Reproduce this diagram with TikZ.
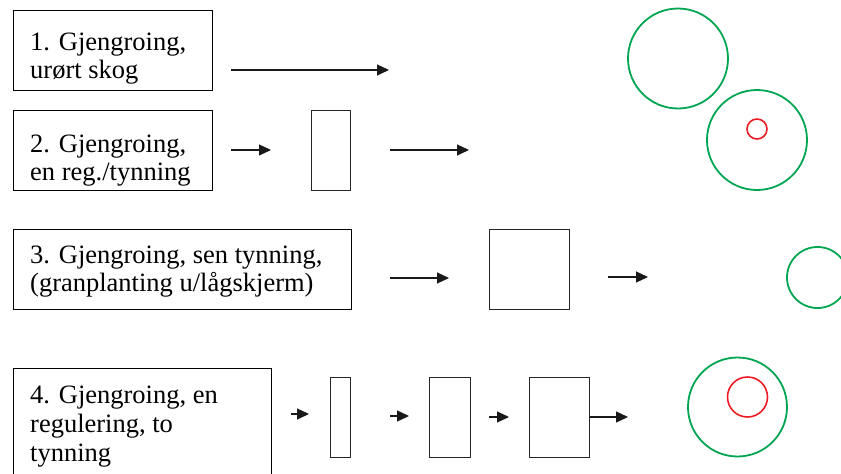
\documentclass[tikz,border=0pt]{standalone}
\usepackage{fontspec}
\setmainfont{Liberation Serif}
\usetikzlibrary{arrows.meta}
\definecolor{ggreen}{RGB}{0,166,81}
\definecolor{rred}{RGB}{237,28,36}
\begin{document}
\begin{tikzpicture}[x=1pt,y=-1pt,
  lbl/.style={draw=black,line width=1.3pt,inner sep=0pt,anchor=north west},
  txt/.style={anchor=base west,inner sep=0pt,font=\fontsize{26.5}{30}\selectfont},
  blk/.style={draw=black!85,line width=1.3pt,inner sep=0pt,anchor=north west},
  arr/.style={-{Triangle[length=12pt,width=11pt]},line width=1.2pt,black!90},
  gc/.style={draw=ggreen,line width=1.8pt,circle,inner sep=0pt},
  rc/.style={draw=rred,line width=1.6pt,circle,inner sep=0pt}]
\useasboundingbox (0,0) rectangle (841,474);
\clip (0,0) rectangle (841,474);
% label boxes
\node[lbl,minimum width=199pt,minimum height=80pt] (b1) at (13,10) {};
\node[lbl,minimum width=199pt,minimum height=80pt] (b2) at (13,109.5) {};
\node[lbl,minimum width=338pt,minimum height=80pt] (b3) at (13,228.5) {};
\node[lbl,minimum width=258pt,minimum height=130pt] (b4) at (13,368) {};
\node[txt] (t1a) at (30,50) {1. Gjengroing,};
\node[txt] (t1b) at (30,78) {urørt skog};
\node[txt] (t2a) at (30,152) {2. Gjengroing,};
\node[txt] (t2b) at (30,180) {en reg./tynning};
\node[txt] (t3a) at (30,263) {3. Gjengroing, sen tynning,};
\node[txt] (t3b) at (30,291) {(granplanting u/lågskjerm)};
\node[txt] (t4a) at (30,403) {4. Gjengroing, en};
\node[txt] (t4b) at (30,432) {regulering, to};
\node[txt] (t4c) at (30,461) {tynning};
% row 1
\coordinate (a1s) at (231,70); \coordinate (a1e) at (389,70);
\draw[arr] (a1s) -- (a1e);
\node[gc,minimum size=100pt] (c1) at (678,58.5) {};
% row 2
\coordinate (a2s) at (231,150); \coordinate (a2e) at (271,150);
\draw[arr] (a2s) -- (a2e);
\node[blk,minimum width=39pt,minimum height=80pt] (r2) at (311,109.5) {};
\coordinate (a3s) at (390,150); \coordinate (a3e) at (469,150);
\draw[arr] (a3s) -- (a3e);
\node[gc,minimum size=100pt] (c2) at (757,140) {};
\node[rc,minimum size=20pt] (c2r) at (757,129) {};
% row 3
\coordinate (a4s) at (390,278); \coordinate (a4e) at (449,278);
\draw[arr] (a4s) -- (a4e);
\node[blk,minimum width=80pt,minimum height=80pt] (r3) at (489,228.5) {};
\coordinate (a5s) at (608,277); \coordinate (a5e) at (648,277);
\draw[arr] (a5s) -- (a5e);
\node[gc,minimum size=61pt] (c3) at (817.5,277.5) {};
% row 4
\coordinate (a6s) at (291,414); \coordinate (a6e) at (309,414);
\draw[arr] (a6s) -- (a6e);
\node[blk,minimum width=20pt,minimum height=80pt] (r41) at (330,377) {};
\coordinate (a7s) at (390,416); \coordinate (a7e) at (409,416);
\draw[arr] (a7s) -- (a7e);
\node[blk,minimum width=41pt,minimum height=80pt] (r42) at (429,377) {};
\coordinate (a8s) at (489,417); \coordinate (a8e) at (509,417);
\draw[arr] (a8s) -- (a8e);
\node[blk,minimum width=60pt,minimum height=80pt] (r43) at (529,377) {};
\coordinate (a9e) at (628,417);
\draw[arr] (r43.east |- a9e) -- (a9e);
\node[gc,minimum size=99pt] (c4) at (737.5,407) {};
\node[rc,minimum size=40pt] (c4r) at (747.5,397) {};
\end{tikzpicture}
\end{document}
